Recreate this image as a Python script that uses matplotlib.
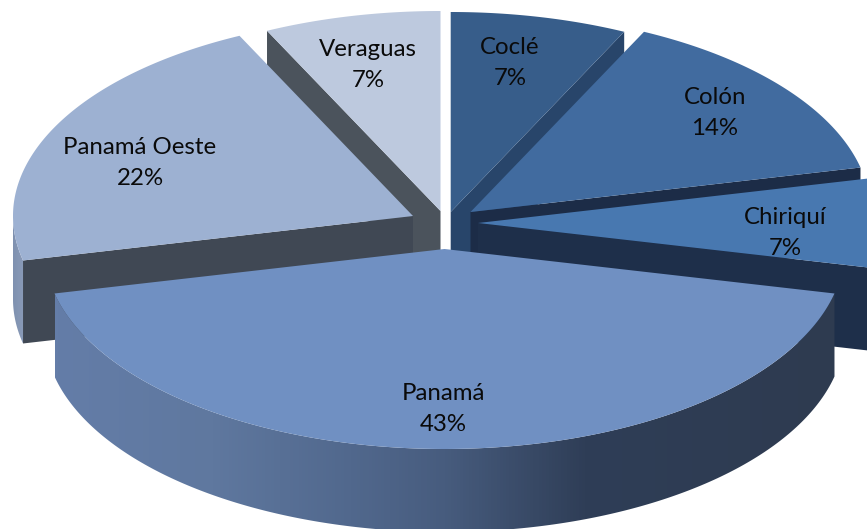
import numpy as np
import matplotlib
matplotlib.use("Agg")
import matplotlib.pyplot as plt
from matplotlib.colors import LinearSegmentedColormap
from matplotlib.patches import Polygon

plt.rcParams["font.family"] = ["Lato", "DejaVu Sans"]

# clockwise from 12 o'clock
names = ["Coclé", "Colón", "Chiriquí", "Panamá", "Panamá Oeste", "Veraguas"]
shares = [7.14, 14.29, 7.14, 42.86, 21.43, 7.14]
pct_labels = ["7%", "14%", "7%", "43%", "22%", "7%"]

top_colors = ["#375D8A", "#416B9F", "#4878B0", "#7090C2", "#9DB1D2", "#BDC9DE"]
wall_colors = ["#28456A", "#1C2C47", "#1E2F4A", "#2E3B50", "#404854", "#4B535C"]

# pixel layout of the exploded slices
apex_x = [450.7, 470.5, 478, 444.5, 413, 440.5]
apex_y = [212, 212, 223, 249, 216, 211]
label_x = [510, 715, 785, 443, 140, 368]
label_y = [63, 113, 233, 409, 163, 65]

rx, ry = 400, 200
depth = 83

fig = plt.figure(figsize=(8.67, 5.29), dpi=100)
ax = fig.add_axes([0, 0, 1, 1])
ax.set_xlim(0, 867)
ax.set_ylim(529, 0)
ax.axis("off")

edges = np.radians(np.cumsum([0] + shares) / sum(shares) * 360)


def rim(i, t):
    return apex_x[i] + rx * np.sin(t), apex_y[i] - ry * np.cos(t)


def top_face(i, z):
    t = np.linspace(edges[i], edges[i + 1], 200)
    x, y = rim(i, t)
    pts = np.column_stack([np.r_[apex_x[i], x], np.r_[apex_y[i], y]])
    ax.add_patch(Polygon(pts, closed=True, fc=top_colors[i], ec="none", zorder=z))


def cut_face(i, t, z):
    x, y = rim(i, t)
    pts = [(apex_x[i], apex_y[i]), (x, y), (x, y + depth), (apex_x[i], apex_y[i] + depth)]
    ax.add_patch(Polygon(pts, closed=True, fc=wall_colors[i], ec="none", zorder=z))


def outer_wall(i, t0, t1, stops, z):
    t = np.linspace(t0, t1, 200)
    x, y = rim(i, t)
    pts = np.column_stack([np.r_[x, x[::-1]], np.r_[y, y[::-1] + depth]])
    patch = Polygon(pts, closed=True, fc="none", ec="none", zorder=z)
    ax.add_patch(patch)
    cmap = LinearSegmentedColormap.from_list("wall", stops)
    grad = np.linspace(0, 1, 256).reshape(1, -1)
    im = ax.imshow(grad, cmap=cmap, aspect="auto", zorder=z,
                   extent=[pts[:, 0].min(), pts[:, 0].max(), pts[:, 1].max(), pts[:, 1].min()])
    im.set_clip_path(patch)


panama_stops = [(0, "#647DA8"), (0.2, "#5F789F"), (0.38, "#51688D"), (0.5, "#475C7E"),
                (0.68, "#2F3E57"), (1, "#2E3B50")]
oeste_stops = [(0, "#7F91B0"), (1, "#8A9BB8")]

# back to front
cut_face(5, edges[5], 1)
top_face(5, 2)
cut_face(0, edges[1], 1)
top_face(0, 2)
outer_wall(4, edges[4], np.radians(270), oeste_stops, 3)
cut_face(4, edges[4], 3)
top_face(4, 4)
cut_face(1, edges[2], 3)
top_face(1, 4)
cut_face(2, edges[3], 5)
top_face(2, 6)
outer_wall(3, edges[3], edges[4], panama_stops, 7)
top_face(3, 8)

ax.set_xlim(0, 867)
ax.set_ylim(529, 0)

for name, pct, x, y in zip(names, pct_labels, label_x, label_y):
    ax.text(x, y, name + "\n" + pct, ha="center", va="center", fontsize=17.3,
            color="#0A0A0A", linespacing=1.58, zorder=10)

fig.savefig("out.png", dpi=100)
